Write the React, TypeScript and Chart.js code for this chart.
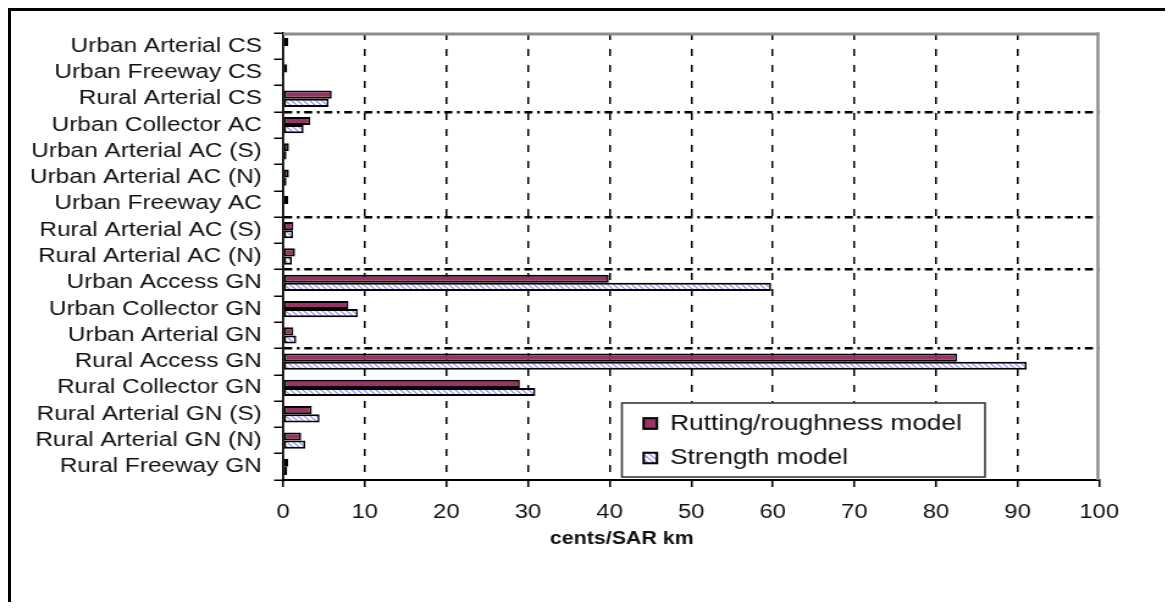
import React, { useEffect, useRef } from 'react';
import { Chart, registerables } from 'chart.js';

Chart.register(...registerables);

// ---- data ----
const categories = [
  'Urban Arterial CS',
  'Urban Freeway CS',
  'Rural Arterial CS',
  'Urban Collector AC',
  'Urban Arterial AC (S)',
  'Urban Arterial AC (N)',
  'Urban Freeway AC',
  'Rural Arterial AC (S)',
  'Rural Arterial AC (N)',
  'Urban Access GN',
  'Urban Collector GN',
  'Urban Arterial GN',
  'Rural Access GN',
  'Rural Collector GN',
  'Rural Arterial GN (S)',
  'Rural Arterial GN (N)',
  'Rural Freeway GN',
];
const ruttingValues = [0.6, 0.5, 5.95, 3.3, 0.7, 0.7, 0.6, 1.25, 1.45, 39.9, 8.0, 1.25, 82.6, 29.0, 3.5, 2.2, 0.6];
const strengthValues = [0.0, 0.1, 5.55, 2.5, 0.4, 0.4, 0.0, 1.2, 1.05, 59.8, 9.15, 1.6, 91.1, 30.9, 4.45, 2.7, 0.5];
const seriesLabels = ['Rutting/roughness model', 'Strength model'];
const axisTitle = 'cents/SAR km';
const xMin = 0;
const xMax = 100;
const xStep = 10;
// boundaries (grid line indices) where the dash-dot group separators sit
const groupBreaks = [3, 7, 9, 12];

// ---- drawing constants ----
const CSS_W = 1162;
const CSS_H = 599;
const W = 952; // internal canvas width (text in the reference is horizontally stretched)
const H = 599;
const SX = CSS_W / W;
const FONT = '"Liberation Sans", Arial, Helvetica, sans-serif';
const MAROON = '#993366';

function makeHatch(): CanvasPattern | string {
  const c = document.createElement('canvas');
  c.width = 5;
  c.height = 5;
  const g = c.getContext('2d');
  if (!g) return '#ccccff';
  g.fillStyle = '#ffffff';
  g.fillRect(0, 0, 5, 5);
  g.strokeStyle = '#8a8af0';
  g.lineWidth = 1.2;
  g.beginPath();
  g.moveTo(-1, -1);
  g.lineTo(6, 6);
  g.moveTo(-1, 4);
  g.lineTo(1, 6);
  g.moveTo(4, -1);
  g.lineTo(6, 1);
  g.stroke();
  return g.createPattern(c, 'repeat') || '#ccccff';
}

export default function App() {
  const ref = useRef<HTMLCanvasElement>(null);

  useEffect(() => {
    document.documentElement.style.overflow = 'hidden';
    const canvas = ref.current;
    if (!canvas) return;
    const hatch = makeHatch();
    const fills = [MAROON, hatch];

    const decor = {
      id: 'decor',
      beforeDatasetsDraw(chart: any) {
        const { ctx, chartArea: a } = chart;
        ctx.save();
        ctx.strokeStyle = '#8c8c8c';
        ctx.lineWidth = 3;
        ctx.beginPath();
        ctx.moveTo(a.left, a.top + 1);
        ctx.lineTo(a.right, a.top + 1);
        ctx.stroke();
        ctx.lineWidth = 2.4;
        ctx.beginPath();
        ctx.moveTo(a.right - 1, a.top - 0.5);
        ctx.lineTo(a.right - 1, a.bottom);
        ctx.stroke();
        ctx.restore();
      },
      afterDraw(chart: any) {
        const { ctx, chartArea: a } = chart;
        ctx.save();
        // legend box
        const bx = a.left + 277.5;
        const by = a.top + 370;
        const bw = 297.5;
        const bh = 74;
        ctx.fillStyle = '#ffffff';
        ctx.fillRect(bx, by, bw, bh);
        ctx.strokeStyle = '#3a3a3a';
        ctx.lineWidth = 1.6;
        ctx.strokeRect(bx, by, bw, bh);
        const rows = [by + 20.5, by + 55];
        chart.data.datasets.forEach((ds: any, i: number) => {
          const cy = rows[i];
          const mx = bx + 17;
          const ms = 12.5;
          ctx.fillStyle = fills[i];
          ctx.fillRect(mx, cy - ms / 2, ms, ms);
          ctx.strokeStyle = '#000';
          ctx.lineWidth = 2;
          ctx.strokeRect(mx + 0.8, cy - ms / 2 + 1, ms - 1.6, ms - 2);
          ctx.fillStyle = '#111';
          ctx.font = `21.5px ${FONT}`;
          ctx.textAlign = 'left';
          ctx.textBaseline = 'middle';
          ctx.fillText(ds.label, bx + 39.5, cy + 0.5);
        });
        // x-axis title
        ctx.font = `bold 17.5px ${FONT}`;
        ctx.fillStyle = '#111';
        ctx.textAlign = 'center';
        ctx.textBaseline = 'middle';
        ctx.fillText(axisTitle, a.left + 0.415 * (a.right - a.left), a.bottom + 59);
        ctx.restore();
      },
    };

    const vEdge = 2 / SX;
    const chart = new Chart(canvas, {
      type: 'bar',
      data: {
        labels: categories,
        datasets: [
          {
            label: seriesLabels[0],
            data: ruttingValues,
            backgroundColor: MAROON,
            borderColor: '#000',
            borderWidth: { top: 2, bottom: 2, left: vEdge, right: vEdge },
            borderSkipped: false,
          },
          {
            label: seriesLabels[1],
            data: strengthValues,
            backgroundColor: hatch as any,
            borderColor: '#000',
            borderWidth: { top: 2, bottom: 2, left: vEdge, right: vEdge },
            borderSkipped: false,
          },
        ],
      },
      options: {
        indexAxis: 'y',
        responsive: false,
        animation: false,
        devicePixelRatio: 1,
        layout: { padding: { top: 14, right: 60.5, left: 0, bottom: 0 } },
        datasets: { bar: { categoryPercentage: 0.62, barPercentage: 1 } },
        plugins: {
          legend: { display: false },
          tooltip: { enabled: false },
        },
        scales: {
          x: {
            type: 'linear',
            position: 'bottom',
            min: xMin,
            max: xMax,
            afterFit: (s: any) => {
              s.height = 130;
            },
            ticks: {
              stepSize: xStep,
              padding: 14.3,
              color: '#111',
              maxRotation: 0,
              autoSkip: false,
              font: { family: FONT, size: 19.5 },
            },
            grid: {
              color: (c: any) =>
                c.tick && (c.tick.value === xMin || c.tick.value === xMax) ? 'rgba(0,0,0,0)' : '#000',
              lineWidth: 1.5,
              drawTicks: true,
              tickLength: 7,
              tickColor: '#000',
              tickWidth: 1.6,
            },
            border: { display: true, color: '#000', width: 2, dash: [7, 9] },
          },
          y: {
            type: 'category',
            position: 'left',
            offset: true,
            afterFit: (s: any) => {
              s.width = 223;
            },
            ticks: {
              padding: 10,
              color: '#111',
              autoSkip: false,
              font: { family: FONT, size: 20 },
            },
            grid: {
              offset: true,
              color: (c: any) => (groupBreaks.includes(c.index) ? '#000' : 'rgba(0,0,0,0)'),
              lineWidth: 2.5,
              drawTicks: true,
              tickLength: 7.5,
              tickColor: '#000',
              tickWidth: 1.5,
            },
            border: { display: true, color: '#000', width: 1.8, dash: [6.6, 3.8, 2.2, 3.8] },
          },
        },
      } as any,
      plugins: [decor],
    });

    return () => chart.destroy();
  }, []);

  return (
    <div
      style={{
        width: 1165,
        height: 602,
        boxSizing: 'border-box',
        borderTop: '3px solid #000',
        borderLeft: '3px solid #000',
        marginBottom: -8,
        overflow: 'hidden',
        background: '#fff',
      }}
    >
      <canvas
        ref={ref}
        width={W}
        height={H}
        style={{ display: 'block', width: CSS_W + 'px', height: CSS_H + 'px' }}
      />
    </div>
  );
}
